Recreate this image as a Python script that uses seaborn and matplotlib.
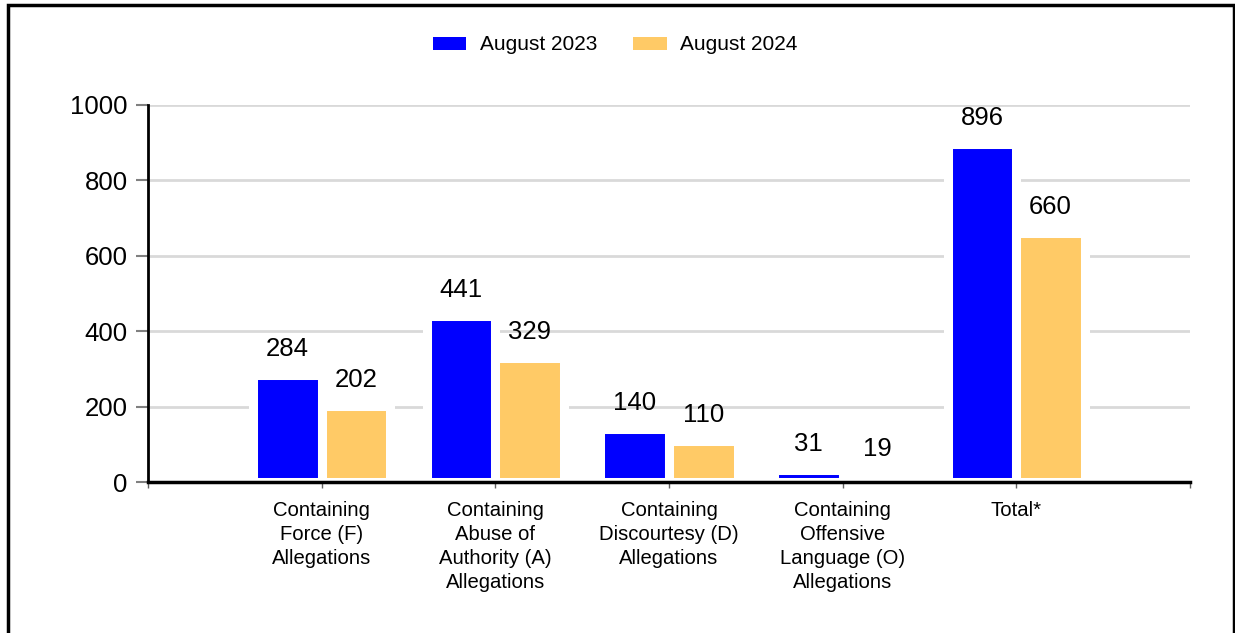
import pandas as pd
import numpy as np
import matplotlib
matplotlib.use("Agg")
import matplotlib.pyplot as plt
from matplotlib.patches import Patch, Rectangle
import seaborn as sns

# data
categories = ["Containing\nForce (F)\nAllegations",
              "Containing\nAbuse of\nAuthority (A)\nAllegations",
              "Containing\nDiscourtesy (D)\nAllegations",
              "Containing\nOffensive\nLanguage (O)\nAllegations",
              "Total*"]
periods = ["August 2023", "August 2024"]
aug_2023 = [284, 441, 140, 31, 896]
aug_2024 = [202, 329, 110, 19, 660]
yticks = [0, 200, 400, 600, 800, 1000]

colors = ["#0000FF", "#FFCA66"]

df = pd.DataFrame({
    "category": categories * 2,
    "period": [periods[0]] * len(categories) + [periods[1]] * len(categories),
    "value": aug_2023 + aug_2024,
})

sns.set_style("white")
plt.rcParams["font.family"] = ["Liberation Sans", "DejaVu Sans"]
plt.rcParams["text.color"] = "black"
plt.rcParams["xtick.labelcolor"] = "black"
plt.rcParams["ytick.labelcolor"] = "black"

fig = plt.figure(figsize=(12.35, 6.33), dpi=100)
ax = fig.add_axes([148 / 1235, 1 - 482 / 633, (1190 - 148) / 1235, (482 - 105) / 633])

sns.barplot(data=df, x="category", y="value", hue="period", order=categories,
            hue_order=periods, palette=colors, width=0.79, saturation=1,
            edgecolor="white", linewidth=6.5, ax=ax, legend=False)

ax.set_axisbelow(True)
ax.yaxis.grid(True, color="#d9d9d9", linewidth=2)
ax.xaxis.grid(False)

ax.set_ylim(0, 1000)
ax.set_yticks(yticks)
ax.set_yticklabels([str(t) for t in yticks], fontsize=18.5)
ax.tick_params(axis="y", direction="out", length=8.5, width=1.5, color="#808080",
               pad=6, left=True)

ax.set_xlim(-1, len(categories))
ax.set_xticks(np.arange(-1, len(categories) + 1))
ax.set_xticklabels([""] + categories + [""], fontsize=14.6, linespacing=1.33)
ax.tick_params(axis="x", direction="out", length=4, width=1, color="#606060",
               pad=10, bottom=True)
ax.set_xlabel("")
ax.set_ylabel("")

for s in ["top", "right"]:
    ax.spines[s].set_visible(False)
ax.spines["left"].set_color("black")
ax.spines["left"].set_linewidth(2)
ax.spines["bottom"].set_color("black")
ax.spines["bottom"].set_linewidth(2.5)

# value labels
for cont, vals in zip(ax.containers, [aug_2023, aug_2024]):
    ax.bar_label(cont, labels=[str(v) for v in vals], padding=10, fontsize=18.5,
                 color="black")

# legend
handles = [Patch(facecolor=c, edgecolor="none") for c in colors]
fig.legend(handles, periods, loc="center", bbox_to_anchor=(615 / 1235, 1 - 45 / 633),
           ncol=2, frameon=False, fontsize=15, handlelength=1.63, handleheight=0.58,
           handletextpad=0.63, columnspacing=1.73)

# outer frame
fig.add_artist(Rectangle((8 / 1235, -0.1), (1234 - 8) / 1235, 1.1 - 5 / 633,
                         fill=False, edgecolor="black", linewidth=2.5,
                         transform=fig.transFigure))

fig.savefig("out.png", dpi=100, facecolor="white")
